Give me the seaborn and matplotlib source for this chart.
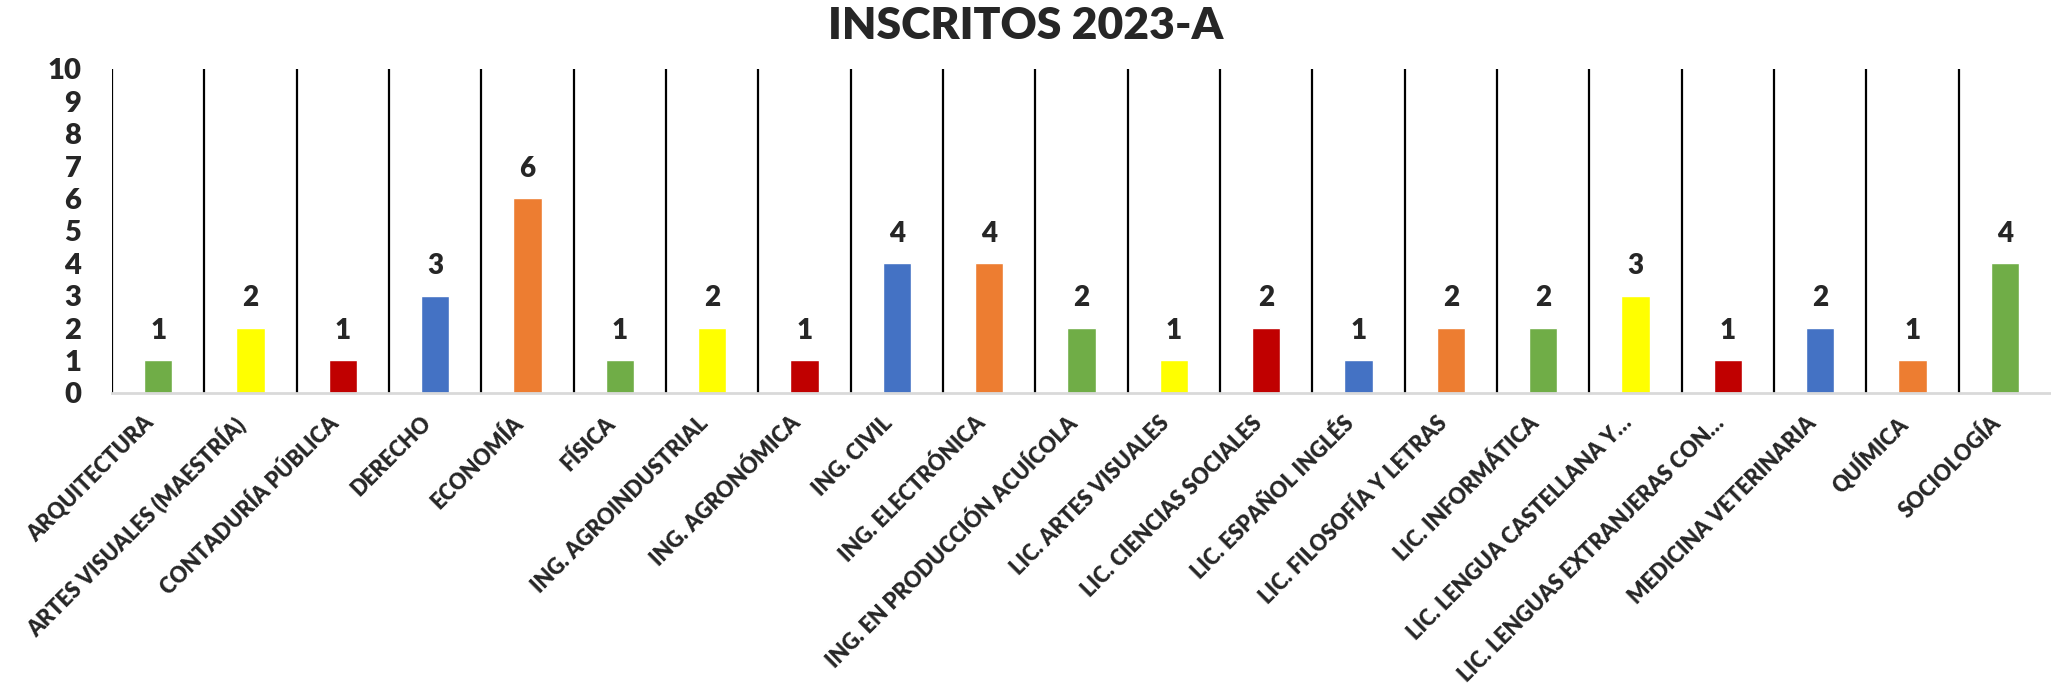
import pandas as pd
import seaborn as sns
import matplotlib.pyplot as plt

# datos del grafico
programas = ['ARQUITECTURA', 'ARTES VISUALES (MAESTRÍA)', 'CONTADURÍA PÚBLICA', 'DERECHO',
             'ECONOMÍA', 'FÍSICA', 'ING. AGROINDUSTRIAL', 'ING. AGRONÓMICA', 'ING. CIVIL',
             'ING. ELECTRÓNICA', 'ING. EN PRODUCCIÓN ACUÍCOLA', 'LIC. ARTES VISUALES',
             'LIC. CIENCIAS SOCIALES', 'LIC. ESPAÑOL INGLÉS', 'LIC. FILOSOFÍA Y LETRAS',
             'LIC. INFORMÁTICA', 'LIC. LENGUA CASTELLANA Y…', 'LIC. LENGUAS EXTRANJERAS CON…',
             'MEDICINA VETERINARIA', 'QUÍMICA', 'SOCIOLOGÍA']
inscritos = [1, 2, 1, 3, 6, 1, 2, 1, 4, 4, 2, 1, 2, 1, 2, 2, 3, 1, 2, 1, 4]
colores = ['#70AD47', '#FFFF00', '#C00000', '#4472C4', '#ED7D31'] * 5

df = pd.DataFrame({'programa': programas, 'inscritos': inscritos})

sns.set_style('white')
plt.rcParams['font.family'] = ['Lato', 'DejaVu Sans']

fig = plt.figure(figsize=(20.51, 6.88), dpi=100)
ax = fig.add_axes([0.0546, 0.429, 0.9454, 0.471])

sns.barplot(data=df, x='programa', y='inscritos', hue='programa',
            palette=colores[:len(programas)], width=0.31, legend=False,
            saturation=1, ax=ax)

for c in ax.containers:
    ax.bar_label(c, padding=12, fontsize=20, fontweight='heavy')

# lineas verticales entre categorias
for i in range(len(programas)):
    ax.axvline(i - 0.5, color='black', lw=1.6, zorder=0)

ax.set_xlim(-0.5, len(programas) - 0.5)
ax.set_ylim(0, 10)
ax.set_yticks(range(0, 11))
ax.tick_params(axis='y', length=0, pad=22, labelsize=21)
ax.tick_params(axis='x', length=0, pad=14, labelsize=15.5)
for lab in ax.get_yticklabels():
    lab.set_fontweight('heavy')
for lab in ax.get_xticklabels():
    lab.set_fontweight('heavy')
    lab.set_rotation(45)
    lab.set_ha('right')
    lab.set_va('top')

for s in ['left', 'right', 'top']:
    ax.spines[s].set_visible(False)
ax.spines['bottom'].set_color('#d9d9d9')
ax.spines['bottom'].set_linewidth(2)

ax.set_xlabel('')
ax.set_ylabel('')
fig.text(0.5, 0.962, 'INSCRITOS 2023-A', ha='center', va='center',
         fontsize=32, fontweight='heavy')

fig.savefig('out.png', dpi=100)
